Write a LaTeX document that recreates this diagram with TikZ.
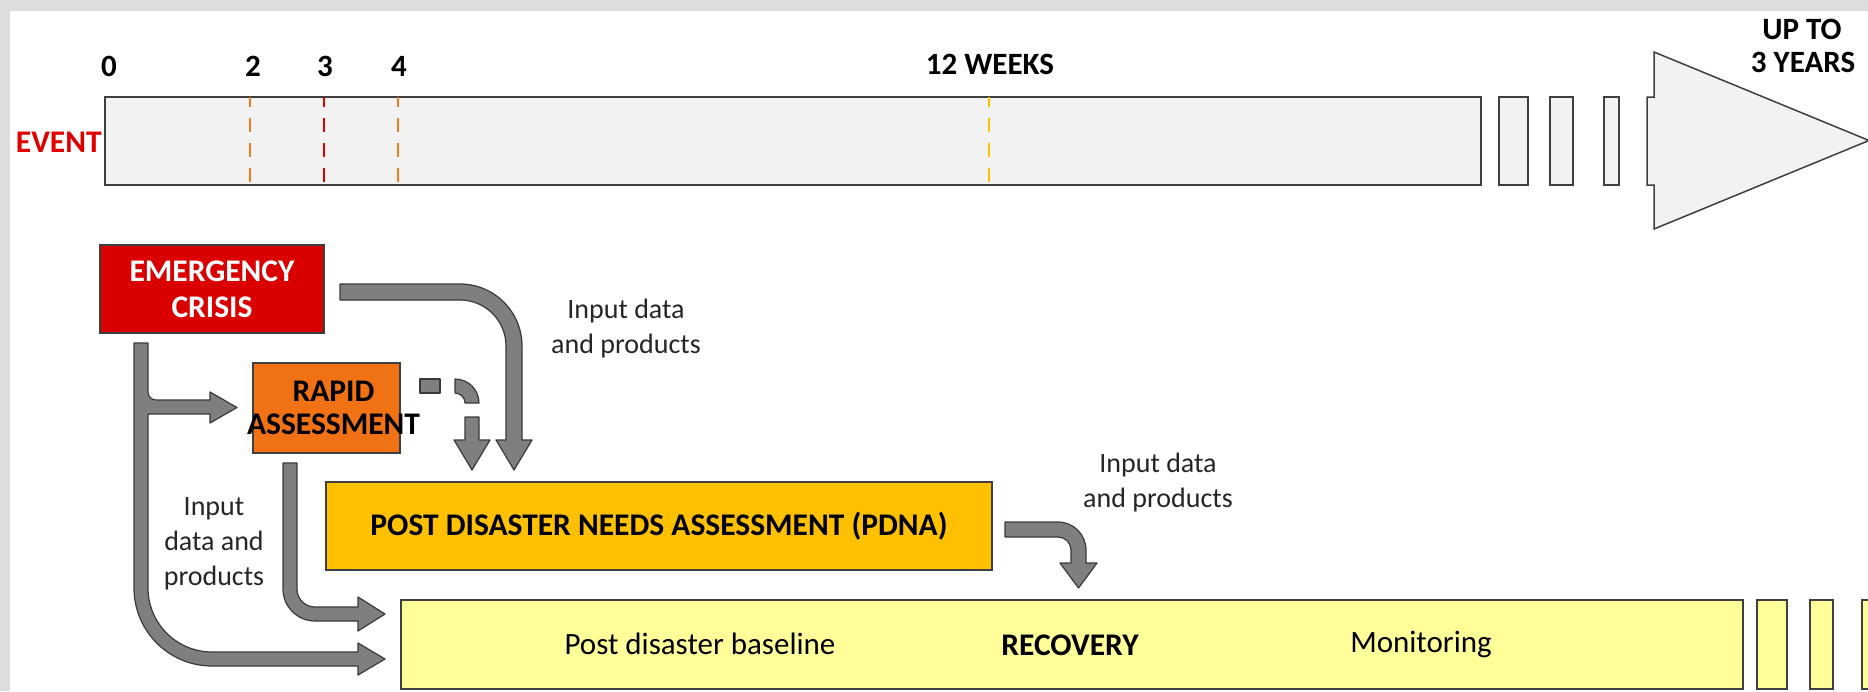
\documentclass[tikz,border=0pt]{standalone}
\usepackage{fontspec}
\setmainfont{Carlito}
\definecolor{framegray}{HTML}{DCDDDF}
\definecolor{barfill}{HTML}{F2F2F2}
\definecolor{edgegray}{HTML}{3F3F3F}
\definecolor{arrowgray}{HTML}{7F7F7F}
\definecolor{arrowedge}{HTML}{3A3A3A}
\definecolor{emred}{HTML}{DB0000}
\definecolor{rapidorange}{HTML}{F07214}
\definecolor{pdnagold}{HTML}{FFC000}
\definecolor{recyellow}{HTML}{FFFF99}
\definecolor{tickorange}{HTML}{F07F1E}
\definecolor{tickred}{HTML}{E00000}
\definecolor{tickyellow}{HTML}{FFC000}
\definecolor{eventred}{HTML}{E00000}
\definecolor{notegray}{HTML}{262626}
\tikzset{
  lbl/.style={font=\fontsize{15.5}{18}\selectfont\bfseries, inner sep=0pt},
  boxtxt/.style={font=\fontsize{15.75}{18}\selectfont\bfseries, align=center},
  plain/.style={font=\fontsize{15.5}{18}\selectfont, inner sep=0pt},
  note/.style={font=\fontsize{14}{17.5}\selectfont, text=notegray, align=center, inner sep=0pt},
  panel/.style={draw=edgegray, line width=0.75pt, inner sep=0pt},
  blk/.style={fill=arrowgray, draw=arrowedge, line width=0.6pt, line join=round},
  tickline/.style={line width=1.4pt, dash pattern=on 7pt off 5.5pt, dash phase=2pt},
}
\begin{document}
\begin{tikzpicture}[x=0.5pt, y=-0.5pt]
\useasboundingbox (0,0) rectangle (1868,691);
% page and frame
\fill[white] (0,0) rectangle (1868,691);
\fill[framegray] (0,0) rectangle (1868,11);
\fill[framegray] (0,0) rectangle (10,691);

% ---- time line ----
\node[panel, fill=barfill, minimum width=688pt, minimum height=44pt] (bar) at (793,141) {};
\node[panel, fill=barfill, minimum width=14.5pt, minimum height=44pt] (gapA) at (1513.5,141) {};
\node[panel, fill=barfill, minimum width=11.5pt, minimum height=44pt] (gapB) at (1561.5,141) {};
\node[panel, fill=barfill, minimum width=7.5pt, minimum height=44pt] (gapC) at (1611.5,141) {};
\draw[fill=barfill, draw=edgegray, line width=0.75pt, line join=miter]
  (1647,97) -- (1654,97) -- (1654,52) -- (1869,140.5) -- (1654,229) -- (1654,185) -- (1647,185) -- cycle;
\coordinate (tip) at (1869,140.5);

\draw[tickline, tickorange] (250,97) -- (250,185);
\draw[tickline, tickred] (324,97) -- (324,185);
\draw[tickline, tickorange] (398,97) -- (398,185);
\draw[tickline, tickyellow] (989,97) -- (989,185);

\node[lbl] (t0) at (109,66) {0};
\node[lbl] (t2) at (253,66) {2};
\node[lbl] (t3) at (325,66) {3};
\node[lbl] (t4) at (399,66) {4};
\node[lbl] (t12) at (990,64) {12 WEEKS};
\node[lbl] (up) at (1802,29) {UP TO};
\node[lbl] (yrs) at (1803,62) {3 YEARS};
\node[lbl, text=eventred, anchor=east, font=\fontsize{15.75}{18}\selectfont\bfseries] (event) at (102,142) {EVENT};

% ---- phase boxes ----
\node[panel, fill=emred, minimum width=112pt, minimum height=44pt, boxtxt, text=white] (emerg) at (212,289) {EMERGENCY\\[0pt]CRISIS};
\node[panel, fill=rapidorange, minimum width=73.5pt, minimum height=45pt, boxtxt, text=black] (rapid) at (326.5,408)
  {\makebox[0pt]{\hspace{7pt}RAPID}\\[-1.5pt]\makebox[0pt]{\hspace{7pt}ASSESSMENT}};
\node[panel, fill=pdnagold, minimum width=333pt, minimum height=44pt, boxtxt, text=black] (pdna) at (659,526)
  {POST DISASTER NEEDS ASSESSMENT (PDNA)};
\node[panel, fill=recyellow, minimum width=671pt, minimum height=44.5pt] (recov) at (1072,644.5) {};
\node[panel, fill=recyellow, minimum width=15pt, minimum height=44.5pt] (recA) at (1772,644.5) {};
\node[panel, fill=recyellow, minimum width=11.5pt, minimum height=44.5pt] (recB) at (1821.5,644.5) {};
\node[panel, fill=recyellow, minimum width=12pt, minimum height=44.5pt] (recC) at (1874,644.5) {};

\node[plain] (base) at (700,644) {Post disaster baseline};
\node[plain, font=\fontsize{15.75}{18}\selectfont\bfseries] (rlabel) at (1070,645) {RECOVERY};
\node[plain] (monit) at (1421,644) {Monitoring};

% ---- notes ----
\node[note] (n1) at (626,329) {Input data\\and products};
\node[note] (n2) at (1158,483) {Input data\\and products};
\node[note] (n3) at (214,544) {Input\\data and\\products};

% ---- block arrows ----
% emergency -> PDNA
\draw[blk] (340,284) -- (460,284) arc[start angle=270, end angle=360, radius=62]
  -- (522,440) -- (532,440) -- (514,470) -- (496,440) -- (506,440) -- (506,346)
  arc[start angle=0, end angle=-90, radius=46] -- (340,300) -- cycle;
% rapid assessment -> PDNA (dashed)
\draw[blk] (420,379) rectangle (440,393);
\draw[blk] (455,379) arc[start angle=270, end angle=360, radius=24] -- (465,403)
  arc[start angle=0, end angle=-90, radius=10] -- cycle;
\draw[blk] (465,417) -- (479,417) -- (479,440) -- (490,440) -- (472,470) -- (454,440) -- (465,440) -- cycle;
% emergency -> rapid assessment and recovery
\draw[blk] (134,343) -- (148,343) -- (148,392) arc[start angle=180, end angle=90, radius=8]
  -- (210,400) -- (210,392) -- (237,407.5) -- (210,423) -- (210,414) -- (148,414) -- (148,588)
  arc[start angle=180, end angle=90, radius=64]
  -- (358,652) -- (358,643) -- (385,659) -- (358,675) -- (358,666) -- (212,666)
  arc[start angle=90, end angle=180, radius=78] -- cycle;
% rapid assessment -> recovery
\draw[blk] (283,463) -- (297,463) -- (297,589) arc[start angle=180, end angle=90, radius=18]
  -- (358,607) -- (358,597) -- (385,614) -- (358,631) -- (358,621) -- (315,621)
  arc[start angle=90, end angle=180, radius=32] -- cycle;
% PDNA -> recovery
\draw[blk] (1005,522) -- (1058,522) arc[start angle=270, end angle=360, radius=28]
  -- (1086,563) -- (1097,563) -- (1078.5,588) -- (1060,563) -- (1071,563) -- (1071,550)
  arc[start angle=0, end angle=-90, radius=13] -- (1005,537) -- cycle;
\end{tikzpicture}
\end{document}
